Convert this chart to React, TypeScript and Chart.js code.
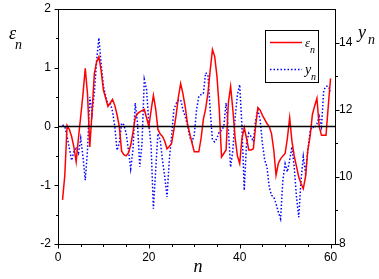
import React, { useEffect, useRef } from "react";
import { Chart, registerables } from "chart.js";

Chart.register(...registerables);

// ---- data (half-step sampling in n) ----
const nValues = [
  1, 1.5, 2, 2.5, 3, 3.5, 4, 4.5, 5, 5.5, 6, 6.5, 7, 7.5, 8, 8.5, 9, 9.5, 10, 10.5,
  11, 11.5, 12, 12.5, 13, 13.5, 14, 14.5, 15, 15.5, 16, 16.5, 17, 17.5, 18, 18.5, 19, 19.5, 20, 20.5,
  21, 21.5, 22, 22.5, 23, 23.5, 24, 24.5, 25, 25.5, 26, 26.5, 27, 27.5, 28, 28.5, 29, 29.5, 30, 30.5,
  31, 31.5, 32, 32.5, 33, 33.5, 34, 34.5, 35, 35.5, 36, 36.5, 37, 37.5, 38, 38.5, 39, 39.5, 40, 40.5,
  41, 41.5, 42, 42.5, 43, 43.5, 44, 44.5, 45, 45.5, 46, 46.5, 47, 47.5, 48, 48.5, 49, 49.5, 50, 50.5,
  51, 51.5, 52, 52.5, 53, 53.5, 54, 54.5, 55, 55.5, 56, 56.5, 57, 57.5, 58, 58.5, 59, 59.5, 60,
];
const epsValues = [
  -1.25, -0.83, 0.02, -0.05, -0.17, -0.35, -0.6, -0.2, 0.17, 0.55, 0.99, 0.55, -0.35, 0.25, 0.9, 1.1, 1.19, 0.95, 0.62, 0.48,
  0.34, 0.4, 0.46, 0.36, 0.2, 0.0, -0.42, -0.48, -0.5, -0.45, -0.32, -0.1, 0.15, 0.22, 0.25, 0.27, 0.29, 0.15, 0.0, 0.28,
  0.53, 0.3, -0.05, -0.13, -0.17, -0.25, -0.38, -0.34, -0.29, -0.06, 0.19, 0.5, 0.73, 0.56, 0.34, 0.05, -0.12, -0.28, -0.43, -0.43,
  -0.43, -0.2, 0.12, 0.3, 0.56, 0.95, 1.31, 1.19, 0.85, 0.3, -0.52, -0.46, -0.4, 0.4, 0.68, 0.28, -0.2, -0.5, -0.63, -0.2,
  -0.02, -0.2, -0.4, -0.4, -0.38, 0.0, 0.32, 0.28, 0.19, 0.12, 0.05, 0.0, -0.12, -0.4, -0.83, -0.63, -0.55, -0.5, -0.46, -0.2,
  0.15, -0.25, -0.5, -0.68, -0.86, -0.97, -1.06, -0.85, -0.4, -0.17, 0.2, 0.35, 0.48, 0.0, -0.15, -0.15, -0.15, 0.35, 0.82,
];
const yValues = [
  11.55, 11.5, 11.2, 10.85, 10.49, 10.75, 10.85, 10.7, 11.15, 10.6, 9.9, 10.8, 12.38, 11.88, 12.5, 13.47, 14.14, 13.37, 12.7, 12.4,
  12.15, 12.2, 11.95, 11.5, 10.79, 11.0, 11.6, 11.55, 11.3, 10.8, 10.24, 10.8, 12.2, 11.6, 10.3, 11.0, 12.9, 12.6, 11.6, 10.9,
  9.05, 10.2, 11.29, 11.1, 10.5, 10.0, 9.4, 10.5, 11.2, 12.0, 12.18, 12.28, 12.3, 12.0, 11.8, 11.55, 11.18, 11.05, 11.25, 12.0,
  12.4, 12.45, 12.48, 13.1, 13.05, 12.0, 11.1, 11.04, 11.15, 11.35, 11.38, 11.5, 12.2, 11.4, 10.29, 10.8, 11.78, 12.45, 12.75, 11.5,
  9.6, 11.0, 11.3, 11.2, 11.05, 11.68, 12.0, 11.7, 11.0, 10.5, 10.3, 9.7, 9.45, 9.4, 9.2, 8.95, 8.75, 9.9, 10.39, 10.15,
  10.5, 10.9, 10.3, 9.4, 8.8, 9.9, 10.6, 10.1, 10.8, 11.35, 11.5, 11.45, 11.58, 11.8, 11.5, 12.58, 12.7, 12.7, 12.55,
];

const xTicks = [0, 20, 40, 60];
const xMinorTicks = [5, 10, 15, 25, 30, 35, 45, 50, 55];
const leftTicks = [-2, -1, 0, 1, 2];
const leftMinorTicks = [-1.5, -0.5, 0.5, 1.5];
const rightTicks = [8, 10, 12, 14];
const rightMinorTicks = [9, 11, 13];

const SERIF = "'Liberation Serif', 'Times New Roman', serif";
const SANS = "'Liberation Sans', Arial, sans-serif";

const framePlugin = {
  id: "framePlugin",
  afterDatasetsDraw(chart: any) {
    const { ctx, chartArea: a, scales } = chart;
    const L = Math.round(a.left) + 0.5;
    const R = Math.round(a.right) - 0.5;
    const T = Math.round(a.top) + 0.5;
    const B = Math.round(a.bottom) + 0.5;
    ctx.save();
    // zero reference line
    const y0 = scales.y.getPixelForValue(0);
    ctx.strokeStyle = "#000";
    ctx.lineWidth = 1.5;
    ctx.beginPath();
    ctx.moveTo(a.left, y0);
    ctx.lineTo(a.right, y0);
    ctx.stroke();
    // frame
    ctx.lineWidth = 1;
    ctx.strokeRect(L, T, R - L, B - T);
    // ticks
    ctx.beginPath();
    for (const v of xTicks) {
      const x = Math.round(scales.x.getPixelForValue(v)) + 0.5;
      ctx.moveTo(x, B);
      ctx.lineTo(x, B + 4);
    }
    for (const v of xMinorTicks) {
      const x = Math.round(scales.x.getPixelForValue(v)) + 0.5;
      ctx.moveTo(x, B);
      ctx.lineTo(x, B + 2.5);
    }
    for (const v of leftTicks) {
      const y = Math.round(scales.y.getPixelForValue(v)) + 0.5;
      ctx.moveTo(L, y);
      ctx.lineTo(L - 4, y);
    }
    for (const v of leftMinorTicks) {
      const y = Math.round(scales.y.getPixelForValue(v)) + 0.5;
      ctx.moveTo(L, y);
      ctx.lineTo(L - 2.5, y);
    }
    for (const v of rightTicks) {
      const y = Math.round(scales.y1.getPixelForValue(v)) + 0.5;
      ctx.moveTo(R, y);
      ctx.lineTo(R + 4, y);
    }
    for (const v of rightMinorTicks) {
      const y = Math.round(scales.y1.getPixelForValue(v)) + 0.5;
      ctx.moveTo(R, y);
      ctx.lineTo(R + 2.5, y);
    }
    ctx.stroke();

    // axis titles
    ctx.fillStyle = "#000";
    ctx.textBaseline = "alphabetic";
    ctx.textAlign = "left";
    ctx.font = `italic 18px ${SERIF}`;
    ctx.fillText("\u03b5", 9, 39);
    ctx.font = `italic 14px ${SERIF}`;
    ctx.fillText("n", 15, 49);

    ctx.font = `italic 18px ${SERIF}`;
    ctx.fillText("y", 358, 38);
    ctx.font = `italic 14px ${SERIF}`;
    ctx.fillText("n", 368, 44);

    ctx.font = `italic 18px ${SERIF}`;
    ctx.textAlign = "center";
    ctx.fillText("n", 198, 272);

    // legend
    ctx.textAlign = "left";
    ctx.lineWidth = 1;
    ctx.strokeStyle = "#000";
    ctx.strokeRect(265.5, 30.5, 53, 52);
    ctx.lineWidth = 1.5;
    ctx.strokeStyle = "#ff0000";
    ctx.beginPath();
    ctx.moveTo(270, 42.5);
    ctx.lineTo(302, 42.5);
    ctx.stroke();
    ctx.strokeStyle = "#0000ff";
    ctx.setLineDash([1.5, 2]);
    ctx.beginPath();
    ctx.moveTo(270, 69.5);
    ctx.lineTo(302, 69.5);
    ctx.stroke();
    ctx.setLineDash([]);
    ctx.font = `italic 13px ${SERIF}`;
    ctx.fillText("\u03b5", 305, 47);
    ctx.font = `italic 10px ${SERIF}`;
    ctx.fillText("n", 310, 53);
    ctx.font = `italic 14px ${SERIF}`;
    ctx.fillText("y", 305, 74);
    ctx.font = `italic 10px ${SERIF}`;
    ctx.fillText("n", 311, 80);
    ctx.restore();
  },
};

function zeroPad(s: any) {
  s.paddingTop = 0;
  s.paddingBottom = 0;
  s.paddingLeft = 0;
  s.paddingRight = 0;
}

export default function App() {
  const canvasRef = useRef<HTMLCanvasElement | null>(null);

  useEffect(() => {
    const canvas = canvasRef.current;
    if (!canvas) return;
    const tickFont = { family: SANS, size: 12 };
    const chart = new Chart(canvas, {
      type: "line",
      data: {
        datasets: [
          {
            label: "εn",
            data: nValues.map((n, i) => ({ x: n, y: epsValues[i] })),
            yAxisID: "y",
            borderColor: "#ff0000",
            borderWidth: 1.5,
            pointRadius: 0,
            tension: 0,
            fill: false,
          },
          {
            label: "yn",
            data: nValues.map((n, i) => ({ x: n, y: yValues[i] })),
            yAxisID: "y1",
            borderColor: "#0000ff",
            borderWidth: 1.5,
            borderDash: [1.5, 2],
            pointRadius: 0,
            tension: 0,
            fill: false,
          },
        ],
      },
      options: {
        responsive: false,
        animation: false,
        devicePixelRatio: 1,
        layout: { padding: { top: 9, left: 0, right: 0, bottom: 0 } },
        plugins: { legend: { display: false }, tooltip: { enabled: false } },
        scales: {
          x: {
            type: "linear",
            min: 0,
            max: 61.2,
            grid: { display: false, drawTicks: false },
            border: { display: false },
            ticks: { color: "#000", font: tickFont, padding: 6, maxRotation: 0 },
            afterBuildTicks: (s: any) => {
              s.ticks = xTicks.map((v) => ({ value: v }));
            },
            afterFit: (s: any) => {
              s.height = 35;
              zeroPad(s);
            },
          },
          y: {
            type: "linear",
            position: "left",
            min: -2,
            max: 2,
            grid: { display: false, drawTicks: false },
            border: { display: false },
            ticks: { color: "#000", font: tickFont, padding: 7 },
            afterBuildTicks: (s: any) => {
              s.ticks = leftTicks.map((v) => ({ value: v }));
            },
            afterFit: (s: any) => {
              s.width = 58;
              zeroPad(s);
            },
          },
          y1: {
            type: "linear",
            position: "right",
            min: 8,
            max: 15,
            grid: { display: false, drawTicks: false },
            border: { display: false },
            ticks: { color: "#000", font: tickFont, padding: 3 },
            afterBuildTicks: (s: any) => {
              s.ticks = rightTicks.map((v) => ({ value: v }));
            },
            afterFit: (s: any) => {
              s.width = 43;
              zeroPad(s);
            },
          },
        },
      },
      plugins: [framePlugin],
    });
    return () => chart.destroy();
  }, []);

  return (
    <div style={{ position: "absolute", left: 0, top: 0, width: 379, height: 279, background: "#fff" }}>
      <canvas ref={canvasRef} width={379} height={279} style={{ display: "block" }} />
    </div>
  );
}
